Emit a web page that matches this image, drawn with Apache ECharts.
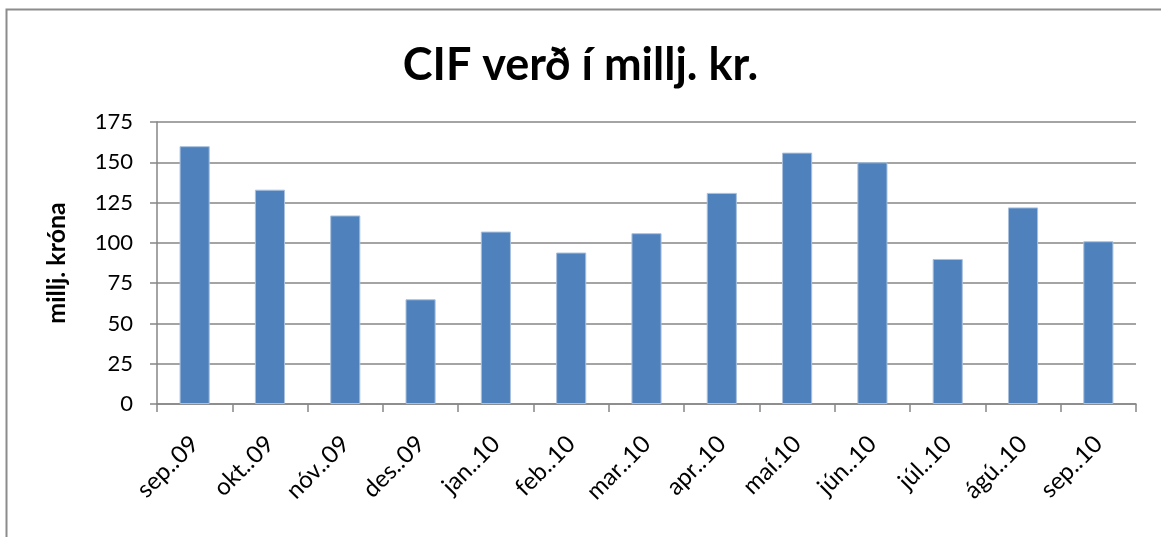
<!DOCTYPE html>
<html>
<head>
<meta charset="utf-8">
<script src="https://cdn.jsdelivr.net/npm/echarts@6/dist/echarts.min.js"></script>
<style>html,body{margin:0;padding:0;background:#fff}#c{width:1161px;height:537px}</style>
</head>
<body>
<div id="c"></div>
<script>
const categories = ['sep..09','okt..09','nóv..09','des..09','jan..10','feb..10','mar..10','apr..10','maí.10','jún..10','júl..10','ágú..10','sep..10'];
const values = [160,133,117,65,107,94,106,131,156,150,90,122,101];
const yTicks = {min:0, max:175, interval:25};
const titleText = 'CIF verð í millj. kr.';
const yName = 'millj. króna';

const chart = echarts.init(document.getElementById('c'), null, {renderer:'canvas'});
chart.setOption({
  animation:false,
  backgroundColor:'#fff',
  graphic:[{type:'rect', shape:{x:6.5,y:9.5,width:1300,height:700}, style:{fill:'none',stroke:'#8c8c8c',lineWidth:2}, silent:true}],
  title:{text:titleText, left:'center', top:38, textStyle:{fontFamily:'Lato', fontWeight:'bold', fontSize:45, color:'#000'}},
  grid:{left:157, right:25, top:122, bottom:133, containLabel:false},
  xAxis:{type:'category', data:categories, boundaryGap:true,
    axisLine:{lineStyle:{color:'#868686', width:1.5}},
    axisTick:{show:true, length:8, lineStyle:{color:'#868686', width:1.5}},
    axisLabel:{rotate:45, margin:36, interval:0, fontFamily:'Lato', fontSize:24, color:'#000'}},
  yAxis:{type:'value', min:yTicks.min, max:yTicks.max, interval:yTicks.interval,
    name:yName, nameLocation:'middle', nameGap:88, nameRotate:90,
    nameTextStyle:{fontFamily:'Lato', fontWeight:'bold', fontSize:25, color:'#000'},
    axisLine:{show:true, lineStyle:{color:'#868686', width:1.5}},
    axisTick:{show:true, length:7, lineStyle:{color:'#868686', width:1.5}},
    splitLine:{show:true, lineStyle:{color:'#868686', width:1.5}},
    axisLabel:{margin:24, fontFamily:'Lato', fontSize:22, color:'#000'}},
  series:[{type:'bar', data:values, barWidth:'40%',
    itemStyle:{color:'#4F81BD', borderColor:'#a9c1de', borderWidth:1}}]
});
</script>
</body>
</html>
